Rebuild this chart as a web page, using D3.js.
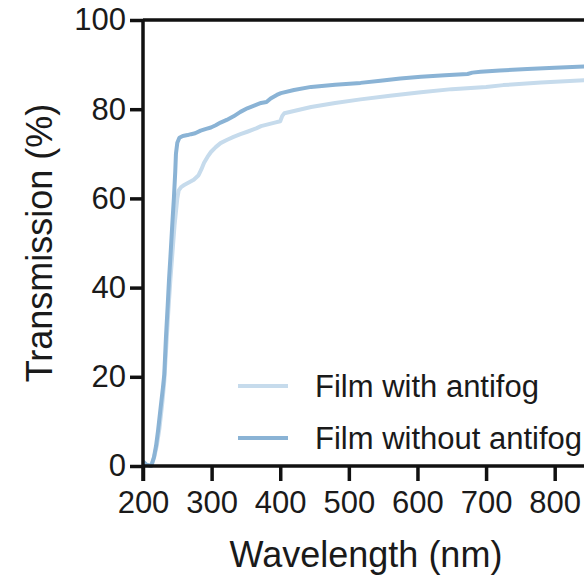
<!DOCTYPE html>
<html>
<head>
<meta charset="utf-8">
<script src="https://cdn.jsdelivr.net/npm/d3@7"></script>
<style>
  html, body { margin: 0; padding: 0; background: #ffffff; }
  svg { display: block; }
  text { font-family: "Liberation Sans", Arial, sans-serif; fill: #1a1a1a; }
</style>
</head>
<body>
<svg id="chart" width="584" height="576"></svg>
<script>
// Transmission spectra of the two films
const wavelengthWith = [200, 205, 212, 216, 220, 224, 228, 231, 234, 237, 240, 243, 246, 248, 250, 252, 256, 260, 266, 274, 281, 285, 289, 294, 299, 306, 313, 322, 332, 342, 353, 365, 372, 382, 392, 400, 403, 406, 420, 445, 480, 517, 560, 605, 650, 700, 725, 780, 843, 850];
const transWith = [1.0, 0.3, 0.0, 1.8, 4.5, 8.5, 14, 19, 27, 35, 42, 48, 54, 57, 60, 61.8, 62.6, 63.0, 63.5, 64.2, 65.2, 66.5, 68.0, 69.3, 70.4, 71.5, 72.4, 73.1, 73.8, 74.4, 75.0, 75.7, 76.2, 76.6, 77.0, 77.3, 78.5, 79.1, 79.6, 80.5, 81.4, 82.2, 83.0, 83.8, 84.5, 85.0, 85.4, 86.0, 86.5, 86.6];

const wavelengthWithout = [200, 205, 212, 216, 219, 222, 226, 229, 231, 233.5, 236, 238, 240, 243, 245, 247, 248, 250, 253, 258, 265, 270, 276, 284, 292, 299, 306, 313, 322, 332, 342, 352, 362, 372, 380, 386, 395, 401, 420, 445, 480, 517, 546, 575, 605, 640, 673, 680, 692, 720, 760, 800, 843, 850];
const transWithout = [1.0, 0.3, 0.0, 2.0, 4.5, 8.0, 13.5, 17.5, 20.5, 29.0, 36, 42, 47, 55, 60, 66, 70, 72.5, 73.6, 74.0, 74.2, 74.4, 74.6, 75.2, 75.6, 75.9, 76.4, 77.0, 77.6, 78.4, 79.4, 80.2, 80.8, 81.4, 81.6, 82.4, 83.2, 83.6, 84.3, 85.0, 85.5, 85.9, 86.4, 86.9, 87.3, 87.6, 87.9, 88.2, 88.4, 88.7, 89.0, 89.3, 89.6, 89.7];

const seriesNames = ["Film with antifog", "Film without antifog"];
const seriesColors = ["#c6dbec", "#8ab3d5"];
const xTicks = [200, 300, 400, 500, 600, 700, 800];
const yTicks = [0, 20, 40, 60, 80, 100];

const svg = d3.select("#chart");
const plotLeft = 143, plotTop = 20, plotBottom = 466, plotRight = 589;

const x = d3.scaleLinear().domain([200, 850]).range([plotLeft, plotRight]);
const y = d3.scaleLinear().domain([0, 100]).range([plotBottom, plotTop]);

const series = [
  wavelengthWith.map((w, i) => ({ w, t: transWith[i] })),
  wavelengthWithout.map((w, i) => ({ w, t: transWithout[i] }))
];

const line = d3.line().x(d => x(d.w)).y(d => y(d.t));

// curves
series.forEach((s, i) => {
  svg.append("path")
    .datum(s)
    .attr("d", line)
    .attr("fill", "none")
    .attr("stroke", seriesColors[i])
    .attr("stroke-width", 4)
    .attr("stroke-linejoin", "round");
});

// frame top edge
svg.append("line")
  .attr("x1", plotLeft).attr("x2", plotRight)
  .attr("y1", plotTop).attr("y2", plotTop)
  .attr("stroke", "#111").attr("stroke-width", 3.5);

// axes
const xAxis = svg.append("g")
  .attr("transform", `translate(0,${plotBottom})`)
  .call(d3.axisBottom(x).tickValues(xTicks).tickSize(15).tickPadding(10).tickSizeOuter(0));
const yAxis = svg.append("g")
  .attr("transform", `translate(${plotLeft},0)`)
  .call(d3.axisLeft(y).tickValues(yTicks).tickSize(13).tickPadding(4).tickSizeOuter(0));

[xAxis, yAxis].forEach(g => {
  g.select(".domain").attr("stroke", "#111").attr("stroke-width", 3.5);
  g.selectAll(".tick line").attr("stroke", "#111").attr("stroke-width", 3.5);
  g.selectAll(".tick text")
    .attr("fill", "#1a1a1a")
    .style("font-family", '"Liberation Sans", Arial, sans-serif')
    .style("font-size", "31px");
});
xAxis.select(".domain").attr("d", `M${plotLeft},0H${plotRight}`);
yAxis.select(".domain").attr("d", `M0,${plotBottom + 15}V${plotTop}`);

// axis titles
svg.append("text")
  .attr("x", 366).attr("y", 567)
  .attr("text-anchor", "middle")
  .style("font-size", "36px")
  .text("Wavelength (nm)");

svg.append("text")
  .attr("transform", `translate(52,${(plotTop + plotBottom) / 2}) rotate(-90)`)
  .attr("text-anchor", "middle")
  .style("font-size", "36px")
  .text("Transmission (%)");

// legend
const legend = svg.append("g");
seriesNames.forEach((name, i) => {
  const ly = 386 + i * 52;
  legend.append("line")
    .attr("x1", 238).attr("x2", 288)
    .attr("y1", ly).attr("y2", ly)
    .attr("stroke", seriesColors[i]).attr("stroke-width", 4);
  legend.append("text")
    .attr("x", 315).attr("y", ly)
    .attr("dy", "0.36em")
    .style("font-size", "31px")
    .text(name);
});
</script>
</body>
</html>
